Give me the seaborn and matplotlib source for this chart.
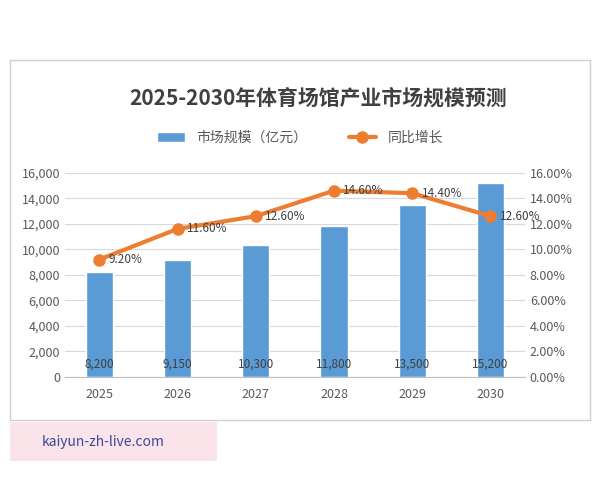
import matplotlib.pyplot as plt
import seaborn as sns
from matplotlib.patches import Rectangle

years = ['2025', '2026', '2027', '2028', '2029', '2030']
scale = [8200, 9150, 10300, 11800, 13500, 15200]
growth = [9.2, 11.6, 12.6, 14.6, 14.4, 12.6]

sns.set_style('white')
plt.rcParams['font.family'] = ['Noto Sans CJK SC', 'DejaVu Sans']

fig = plt.figure(figsize=(6, 4.8), dpi=100)
ax1 = fig.add_axes([0.108, 0.215, 0.767, 0.425])
ax2 = ax1.twinx()

# outer frame
fig.patches.append(Rectangle((0.017, 0.125), 0.966, 0.75, transform=fig.transFigure,
                             fill=False, edgecolor='#d0d0d0', linewidth=1))

x = list(range(len(years)))
sns.barplot(x=years, y=scale, color='#5B9BD5', width=0.35, ax=ax1,
            label='市场规模（亿元）', saturation=1)
if ax1.get_legend() is not None:
    ax1.get_legend().remove()
ax2.plot(x, growth, color='#ED7D31', linewidth=3, marker='o', markersize=8,
         label='同比增长')

ax1.set_ylim(0, 16000)
ax1.set_yticks(range(0, 16001, 2000))
ax1.set_yticklabels([f'{v:,}' for v in range(0, 16001, 2000)])
ax2.set_ylim(0, 16)
ax2.set_yticks(range(0, 17, 2))
ax2.set_yticklabels([f'{v:.2f}%' for v in range(0, 17, 2)])
ax1.yaxis.grid(True, color='#d9d9d9', linewidth=0.8)
ax1.set_axisbelow(True)
for a in (ax1, ax2):
    for s in a.spines.values():
        s.set_visible(False)
    a.tick_params(length=0, labelsize=9, colors='#595959')
ax1.spines['bottom'].set_visible(True)
ax1.spines['bottom'].set_color('#bfbfbf')
ax1.tick_params(axis='x', pad=8)

for i, v in enumerate(scale):
    ax1.text(i, 500, f'{v:,}', ha='center', va='bottom', fontsize=8.5, color='#404040')
for i, v in enumerate(growth):
    ax2.text(i + 0.12, v, f'{v:.2f}%', ha='left', va='center', fontsize=8.5, color='#404040')

fig.text(0.53, 0.795, '2025-2030年体育场馆产业市场规模预测', ha='center', va='center',
         fontsize=15, fontweight='bold', color='#404040')

h1, l1 = ax1.get_legend_handles_labels()
h2, l2 = ax2.get_legend_handles_labels()
fig.legend(h1 + h2, l1 + l2, loc='center', bbox_to_anchor=(0.5, 0.713), ncol=2,
           frameon=False, fontsize=10, labelcolor='#595959', columnspacing=3)

fig.patches.append(Rectangle((0.017, 0.04), 0.345, 0.08, transform=fig.transFigure,
                             facecolor='#fbe3ea', edgecolor='none'))
fig.text(0.07, 0.08, 'kaiyun-zh-live.com', ha='left', va='center', fontsize=10, color='#3b4a9a')

fig.savefig('out.png', dpi=100)
